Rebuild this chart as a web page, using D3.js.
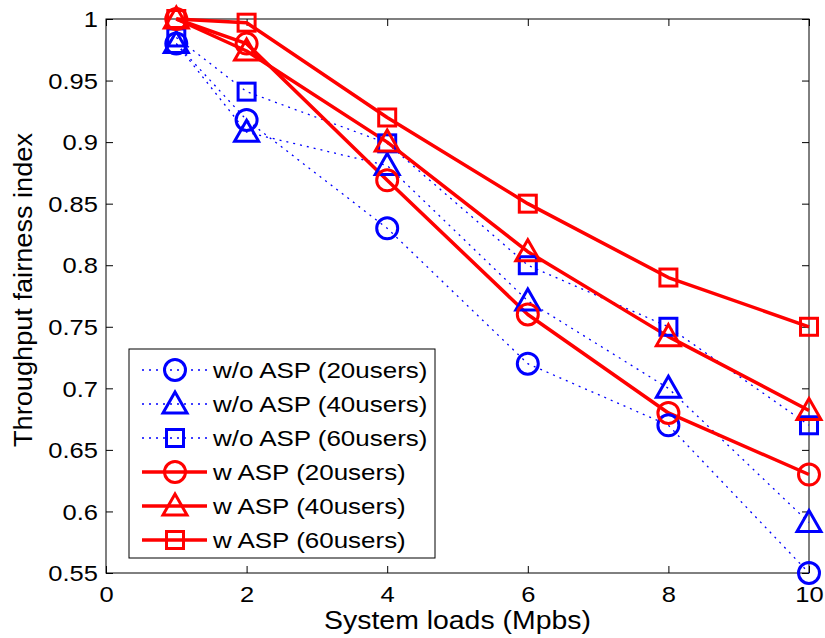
<!DOCTYPE html>
<html><head><meta charset="utf-8">
<script src="https://cdn.jsdelivr.net/npm/d3@7"></script>
<style>body{margin:0;background:#fff}svg{display:block}text{font-family:"Liberation Sans",Arial,sans-serif}</style>
</head><body>
<script>
const xValues = [1, 2, 4, 6, 8, 10];
const woASP20 = [0.980, 0.918, 0.830, 0.720, 0.670, 0.550];
const woASP40 = [0.980, 0.908, 0.881, 0.771, 0.700, 0.591];
const woASP60 = [0.985, 0.941, 0.899, 0.800, 0.750, 0.670];
const wASP20 = [1.000, 0.980, 0.869, 0.760, 0.680, 0.630];
const wASP40 = [1.000, 0.974, 0.900, 0.811, 0.742, 0.682];
const wASP60 = [1.000, 0.997, 0.920, 0.850, 0.790, 0.750];
const seriesNames = ["w/o ASP (20users)","w/o ASP (40users)","w/o ASP (60users)","w ASP (20users)","w ASP (40users)","w ASP (60users)"];
const xTicks = [0,2,4,6,8,10];
const yTicks = [0.55,0.6,0.65,0.7,0.75,0.8,0.85,0.9,0.95,1];

const series = [
  {name:seriesNames[0], vals:woASP20, color:"#0000ff", marker:"circle", dotted:true},
  {name:seriesNames[1], vals:woASP40, color:"#0000ff", marker:"triangle", dotted:true},
  {name:seriesNames[2], vals:woASP60, color:"#0000ff", marker:"square", dotted:true},
  {name:seriesNames[3], vals:wASP20, color:"#ff0000", marker:"circle", dotted:false},
  {name:seriesNames[4], vals:wASP40, color:"#ff0000", marker:"triangle", dotted:false},
  {name:seriesNames[5], vals:wASP60, color:"#ff0000", marker:"square", dotted:false}
];

const W=825,H=638;
const L=106,R=809,T=19,B=573;
const SX=1.16;
const svg=d3.select("body").append("svg").attr("width",W).attr("height",H);
const x=d3.scaleLinear().domain([0,10]).range([L,R]);
const y=d3.scaleLinear().domain([0.55,1]).range([B,T]);

const fmtY=d=>String(+d.toFixed(2));
// bottom axis
const gb=svg.append("g").attr("transform",`translate(0,${B})`)
  .call(d3.axisBottom(x).tickValues(xTicks).tickSize(-7).tickFormat(d=>d));
gb.select(".domain").remove();
gb.selectAll("line").attr("stroke","#000");
gb.selectAll("text").attr("y",0).attr("dy",null).attr("font-size",22).attr("fill","#000")
  .attr("font-family","Liberation Sans, Arial, sans-serif")
  .attr("transform",`translate(0,29) scale(${SX},1)`);
// top axis ticks
const gt=svg.append("g").attr("transform",`translate(0,${T})`)
  .call(d3.axisTop(x).tickValues(xTicks).tickSize(-7).tickFormat(""));
gt.select(".domain").remove(); gt.selectAll("line").attr("stroke","#000");
// left axis
const gl=svg.append("g").attr("transform",`translate(${L},0)`)
  .call(d3.axisLeft(y).tickValues(yTicks).tickSize(-7).tickFormat(fmtY));
gl.select(".domain").remove();
gl.selectAll("line").attr("stroke","#000");
gl.selectAll("text").attr("x",0).attr("dy","0.35em").attr("font-size",22).attr("fill","#000")
  .attr("font-family","Liberation Sans, Arial, sans-serif")
  .attr("transform",`translate(-8,0) scale(${SX},1)`);
// right axis ticks
const gr=svg.append("g").attr("transform",`translate(${R},0)`)
  .call(d3.axisRight(y).tickValues(yTicks).tickSize(-7).tickFormat(""));
gr.select(".domain").remove(); gr.selectAll("line").attr("stroke","#000");

svg.append("rect").attr("x",L).attr("y",T).attr("width",R-L).attr("height",B-T)
  .attr("fill","none").attr("stroke","#000").attr("stroke-width",1);

// axis titles
svg.append("text").attr("transform",`translate(${(L+R)/2},629) scale(${SX*0.98},1)`).attr("text-anchor","middle").attr("font-size",25).text("System loads (Mpbs)");
svg.append("text").attr("transform",`translate(32,290) rotate(-90)`).attr("text-anchor","middle").attr("font-size",26)
  .attr("textLength",314).attr("lengthAdjust","spacingAndGlyphs").text("Throughput fairness index");

function drawMarker(g,type,cx,cy,color){
  const sw=3;
  if(type==="circle"){
    g.append("circle").attr("cx",cx).attr("cy",cy).attr("r",10.5).attr("fill","none").attr("stroke",color).attr("stroke-width",sw);
  } else if(type==="square"){
    g.append("rect").attr("x",cx-8.5).attr("y",cy-8.5).attr("width",17).attr("height",17).attr("fill","none").attr("stroke",color).attr("stroke-width",sw);
  } else {
    const s=12;
    g.append("path").attr("d",`M${cx},${cy-s*1.0}L${cx+s},${cy+s*0.75}L${cx-s},${cy+s*0.75}Z`).attr("fill","none").attr("stroke",color).attr("stroke-width",sw).attr("stroke-linejoin","miter");
  }
}

const plot=svg.append("g");
const line=d3.line().x((d,i)=>x(xValues[i])).y(d=>y(d));
series.forEach(s=>{
  const p=plot.append("path").datum(s.vals).attr("d",line).attr("fill","none").attr("stroke",s.color);
  if(s.dotted) p.attr("stroke-width",1.3).attr("stroke-dasharray","2,5");
  else p.attr("stroke-width",3.5).attr("stroke-linejoin","round");
});
series.forEach(s=>{
  const g=plot.append("g");
  s.vals.forEach((v,i)=>drawMarker(g,s.marker,x(xValues[i]),y(v),s.color));
});

// legend
const lg=svg.append("g");
lg.append("rect").attr("x",129).attr("y",349).attr("width",306).attr("height",209).attr("fill","#fff").attr("stroke","#000").attr("stroke-width",1);
series.forEach((s,i)=>{
  const cy=370+i*34;
  const l=lg.append("line").attr("x1",142).attr("x2",207).attr("y1",cy).attr("y2",cy).attr("stroke",s.color);
  if(s.dotted) l.attr("stroke-width",1.3).attr("stroke-dasharray","2,5");
  else l.attr("stroke-width",3.5);
  drawMarker(lg,s.marker,175,cy,s.color);
  lg.append("text").attr("transform",`translate(213,${cy+8}) scale(1.18,1)`).attr("font-size",22).text(s.name);
});
</script>
</body></html>
